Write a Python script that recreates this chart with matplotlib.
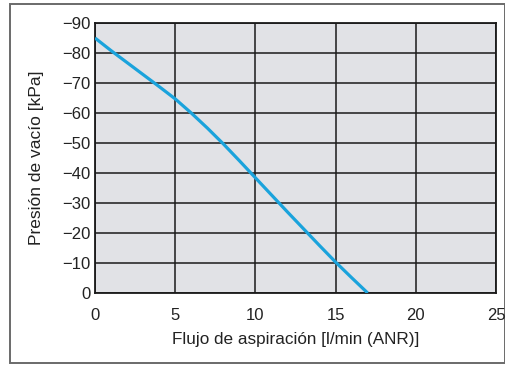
import matplotlib
matplotlib.use("Agg")
import matplotlib.pyplot as plt
from matplotlib.patches import Rectangle

plt.rcParams['font.family'] = ['Liberation Sans', 'DejaVu Sans']

# curve
flow = [0, 1, 2, 3, 4, 5, 6, 7, 8, 9, 10, 11, 12, 13, 14, 15, 16, 17]
pressure = [-85, -80.8, -76.8, -72.8, -68.8, -64.7, -60.0, -55.0, -49.7, -44.1,
            -38.4, -32.7, -27.0, -21.4, -15.8, -10.3, -5.1, 0]

xticks = [0, 5, 10, 15, 20, 25]
yticks = [0, -10, -20, -30, -40, -50, -60, -70, -80, -90]

W, H = 506, 365
fig = plt.figure(figsize=(W / 100, H / 100), dpi=100)

# outer frame
fig.patches.append(Rectangle((10 / W, 1 - 363 / H), 495 / W, 359 / H,
                             transform=fig.transFigure, facecolor='white',
                             edgecolor='#6a6a6a', linewidth=1.4, zorder=-10))

ax = fig.add_axes([95 / W, 1 - 293 / H, 401 / W, 270 / H])
ax.set_facecolor('#e1e2e6')
ax.plot(flow, pressure, color='#1aa3dc', linewidth=2.3, zorder=3,
        solid_capstyle='butt', solid_joinstyle='round')

ax.set_xlim(0, 25)
ax.set_ylim(0, -90)
ax.set_xticks(xticks)
ax.set_yticks(yticks)
ax.set_xticklabels([str(v) for v in xticks])
ax.set_yticklabels(['0' if v == 0 else '\u2212%d' % abs(v) for v in yticks])
ax.tick_params(length=0, labelsize=12, colors='#222222')
ax.tick_params(axis='y', pad=3)
ax.tick_params(axis='x', pad=10.5)
ax.grid(True, color='#1a1a1a', linewidth=1.1)
ax.set_axisbelow(True)
for s in ax.spines.values():
    s.set_color('#1a1a1a')
    s.set_linewidth(1.3)

ax.set_xlabel('Flujo de aspiración [l/min (ANR)]', fontsize=12.3, color='#222222', labelpad=7)
ax.set_ylabel('Presión de vacío [kPa]', fontsize=12.5, color='#222222')
ax.yaxis.set_label_coords(-0.128, 0.5)

fig.savefig('out.png', dpi=100)
